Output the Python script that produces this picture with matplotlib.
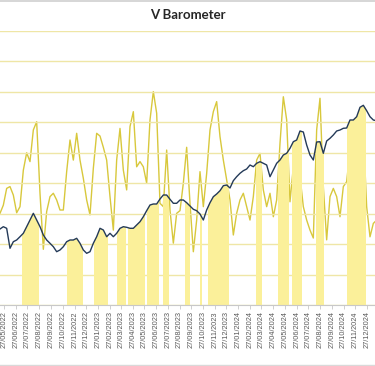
import matplotlib
matplotlib.use("Agg")
import matplotlib.pyplot as plt
import matplotlib.dates as mdates
from matplotlib.lines import Line2D
import numpy as np
import pandas as pd

price = [176.0, 178.3, 176.7, 156.7, 163.3, 165.0, 168.3, 171.7, 178.3, 185.0,
         191.7, 185.0, 178.3, 170.0, 165.0, 161.7, 158.3, 153.3, 155.0, 158.3,
         163.3, 165.0, 165.0, 166.7, 161.7, 155.0, 151.7, 153.3, 161.7, 168.3,
         176.7, 175.0, 168.3, 171.7, 168.3, 171.7, 176.7, 178.3, 177.7, 176.7,
         176.7, 180.0, 183.3, 188.3, 194.3, 200.0, 201.0, 201.0, 206.0, 210.0,
         210.0, 205.7, 201.7, 201.7, 205.0, 205.0, 202.3, 199.0, 195.7, 194.3,
         191.0, 185.0, 195.0, 202.3, 208.3, 211.0, 214.3, 219.3, 220.0, 217.0,
         224.3, 228.3, 231.7, 234.3, 236.0, 240.0, 238.3, 241.7, 243.3, 241.7,
         240.0, 228.3, 235.0, 241.7, 245.0, 250.0, 251.7, 256.7, 263.3, 265.0,
         274.0, 273.0, 260.0, 250.0, 245.0, 263.0, 263.3, 251.7, 264.0, 266.7,
         270.0, 274.0, 275.0, 276.7, 277.0, 285.0, 285.0, 288.3, 297.7, 299.7,
         294.3, 288.3, 285.0, 284.3]

barometer = [30.1, 32.8, 38.3, 38.9, 36.1, 30.3, 32.3, 44.3, 50.0, 47.1,
             57.5, 60.2, 36.7, 18.3, 30.7, 35.6, 36.7, 34.5, 31.2, 31.2,
             43.8, 54.2, 47.6, 56.4, 47.6, 41.6, 34.5, 29.6, 44.9, 56.4,
             55.5, 51.8, 47.6, 35.6, 24.6, 47.6, 58.0, 44.3, 37.8, 58.6,
             63.5, 45.4, 47.1, 45.4, 40.0, 60.8, 70.1, 63.0, 33.4, 32.3,
             50.9, 31.2, 20.3, 30.1, 31.0, 40.0, 51.8, 33.4, 17.5, 27.9,
             43.8, 32.3, 43.2, 57.5, 63.5, 66.8, 55.3, 47.6, 41.1, 34.5,
             23.0, 30.1, 34.5, 36.7, 32.3, 27.9, 35.6, 47.6, 49.8, 37.8,
             32.3, 36.7, 29.0, 34.5, 53.1, 68.4, 60.8, 33.9, 45.4, 49.8,
             42.2, 32.3, 27.9, 24.6, 22.0, 57.5, 67.9, 38.9, 21.4, 35.6,
             38.3, 35.6, 29.0, 38.9, 40.5, 50.9, 54.2, 48.7, 50.9, 56.9,
             32.3, 22.4, 26.8, 27.9]

signal_start = ['2022-07-13', '2022-11-07', '2023-01-17', '2023-03-18', '2023-04-15',
                '2023-06-04', '2023-07-15', '2023-09-11', '2023-10-20', '2023-11-09',
                '2024-03-13', '2024-05-10', '2024-06-15', '2024-08-17', '2024-11-05']
signal_end = ['2022-08-26', '2022-12-19', '2023-02-22', '2023-04-10', '2023-05-29',
              '2023-07-05', '2023-07-31', '2023-09-24', '2023-10-25', '2024-01-03',
              '2024-03-29', '2024-06-07', '2024-07-11', '2024-09-06', '2024-12-25']

start = pd.Timestamp('2022-05-27') - pd.Timedelta(days=10.413)
dates = pd.date_range(start, periods=len(price), freq=pd.Timedelta(days=8.6777))
tick_dates = pd.date_range('2022-05-27', '2024-12-27', freq=pd.DateOffset(months=1))

NAVY = '#243a58'
MUSTARD = '#d8c83c'
FILL = '#fbf09a'
GRID = '#efe6a6'

fig = plt.figure(figsize=(3.75, 3.66), dpi=100)
ax = fig.add_axes([0, 61 / 366, 1, 274 / 366])

ax.set_xlim(start, start + pd.Timedelta(days=976.25))
ax.set_ylim(100, 374)
ax.set_yticks(np.linspace(100, 374, 10))
ax.yaxis.grid(True, color=GRID, lw=1.0)
ax.set_axisbelow(True)
ax.tick_params(axis='y', left=False, right=False, length=0, labelleft=False)

# area under price, only shown inside signal periods
area = ax.fill_between(dates, 0, price, color='none', lw=0)
clip = area.get_paths()[0]
for s, e in zip(signal_start, signal_end):
    span = ax.axvspan(pd.Timestamp(s), pd.Timestamp(e), color=FILL, lw=0, zorder=1)
    span.set_clip_path(clip, ax.transData)

ax.plot(dates, price, color=NAVY, lw=1.0, zorder=4)

ax2 = ax.twinx()
ax2.set_position(ax.get_position())
ax2.set_ylim(0, 90)
ax2.plot(dates, barometer, color=MUSTARD, lw=1.0, zorder=3)
ax2.tick_params(axis='y', left=False, right=False, length=0, labelright=False)
ax.set_zorder(ax2.get_zorder() + 1)
ax.patch.set_visible(False)

for a in (ax, ax2):
    for side in ('top', 'left', 'right'):
        a.spines[side].set_visible(False)
ax2.spines['bottom'].set_visible(False)
ax.spines['bottom'].set_color('#c8c8c8')
ax.spines['bottom'].set_linewidth(0.8)

ax.set_xticks(tick_dates)
ax.xaxis.set_major_formatter(mdates.DateFormatter('%d/%m/%Y'))
ax.tick_params(axis='x', length=3, width=0.6, color='#c8c8c8', pad=1.5,
               labelsize=5.3, labelcolor='#595959', labelrotation=90)
for lab in ax.get_xticklabels():
    lab.set_fontfamily('Liberation Sans')

fig.text(0.5, 1 - 15 / 366, 'V Barometer', ha='center', va='center',
         fontsize=9.5, fontweight='bold', color='#262626', family='Lato')

fig.add_artist(Line2D([0, 1], [0.998, 0.998], color='#d0d0d0', lw=1.2))
fig.add_artist(Line2D([0, 1], [1.5 / 366, 1.5 / 366], color='#d9d9d9', lw=1.0))

fig.savefig('out.png', dpi=100)
